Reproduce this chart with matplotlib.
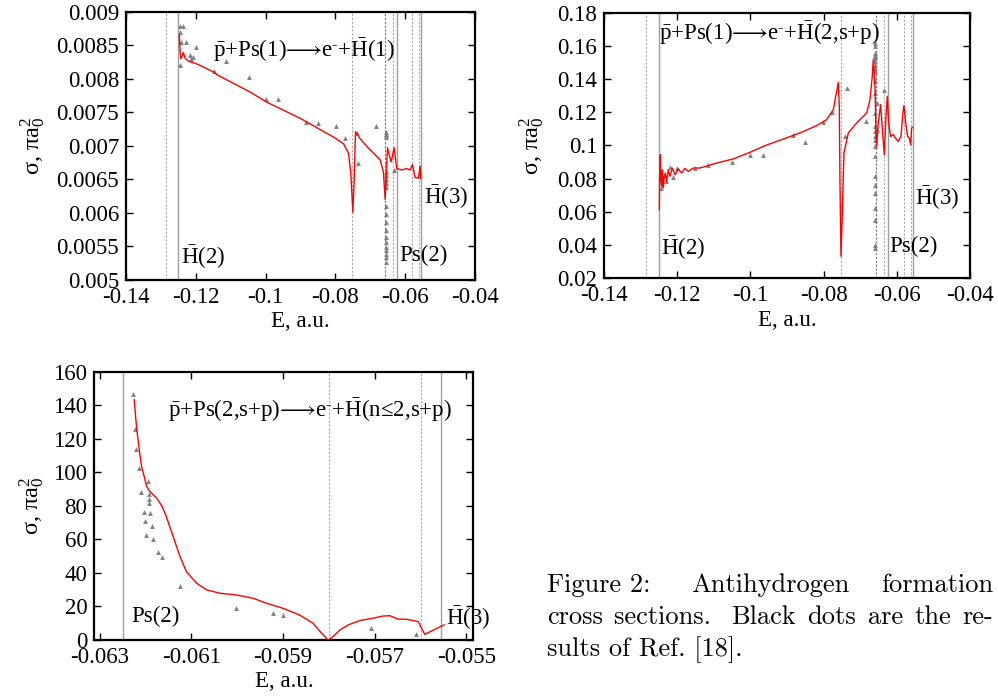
import matplotlib
matplotlib.use("Agg")
import matplotlib.pyplot as plt
from matplotlib.ticker import FixedLocator, FixedFormatter

plt.rcParams["font.family"] = ["Liberation Serif", "DejaVu Serif"]
plt.rcParams["mathtext.fontset"] = "custom"
plt.rcParams["mathtext.rm"] = "Liberation Serif"
plt.rcParams["mathtext.it"] = "Liberation Serif:italic"
plt.rcParams["mathtext.bf"] = "Liberation Serif:bold"
plt.rcParams["mathtext.fallback"] = "stix"
plt.rcParams["axes.unicode_minus"] = False

# ---- panel 1: pbar + Ps(1) -> e- + Hbar(1) ----
e1_curve = [-0.12473, -0.12450, -0.12435, -0.12400, -0.12359, -0.12302, -0.12206,
            -0.11968, -0.11490, -0.11395, -0.10918, -0.10441, -0.09964, -0.09487,
            -0.09010, -0.08532, -0.08055, -0.07769, -0.07626, -0.07559, -0.07502,
            -0.07464, -0.07426, -0.07300, -0.07100, -0.06910, -0.06720, -0.06625,
            -0.06577, -0.06510, -0.06405, -0.06320, -0.06243, -0.06100, -0.05960,
            -0.05860, -0.05794, -0.05718, -0.05620, -0.05574, -0.05555]
s1_curve = [0.00865, 0.00840, 0.00830, 0.00833, 0.00839, 0.00830, 0.00826,
            0.00822, 0.00810, 0.00806, 0.00793, 0.00780, 0.00765, 0.00753,
            0.00741, 0.00727, 0.00713, 0.00703, 0.00689, 0.00659, 0.00601,
            0.00649, 0.00721, 0.00711, 0.00699, 0.00689, 0.00679, 0.00661,
            0.00620, 0.00697, 0.00676, 0.00697, 0.00666, 0.00664, 0.00666,
            0.00664, 0.00672, 0.00653, 0.00652, 0.00670, 0.00651]
e1_ref = [-0.12466, -0.1238, -0.12466, -0.12425, -0.12282, -0.12466, -0.12179,
          -0.12082, -0.1213, -0.11987, -0.11492, -0.11129, -0.10479, -0.09983,
          -0.09649, -0.08838, -0.08486, -0.07979, -0.07722, -0.06834, -0.07341,
          -0.07387, -0.06311,
          -0.06556, -0.06556, -0.06556, -0.06556, -0.06556, -0.06556, -0.06556,
          -0.06556, -0.06556, -0.06556, -0.06556, -0.06556, -0.06556, -0.06556,
          -0.06556, -0.06556, -0.06556, -0.06556, -0.06556, -0.06556]
s1_ref = [0.00878, 0.00878, 0.0087, 0.00855, 0.00855, 0.00821, 0.00835,
          0.00833, 0.00829, 0.00848, 0.00812, 0.00826, 0.00802, 0.0077,
          0.0077, 0.00735, 0.00734, 0.0073, 0.00712, 0.0073, 0.00674,
          0.00719, 0.00664,
          0.00721, 0.00718, 0.00716, 0.00713, 0.00661, 0.00656, 0.00651,
          0.00644, 0.00639, 0.00611, 0.00599, 0.00587, 0.00574, 0.00564,
          0.00557, 0.00549, 0.00544, 0.00539, 0.00534, 0.00527]

# ---- panel 2: pbar + Ps(1) -> e- + Hbar(2,s+p) ----
e2_curve = [-0.12488, -0.12479, -0.12461, -0.12443, -0.12424, -0.12406, -0.12379,
            -0.12352, -0.12324, -0.12288, -0.12242, -0.12197, -0.12133, -0.12060,
            -0.11969, -0.11878, -0.11787, -0.11696, -0.11559, -0.11377, -0.10922,
            -0.10467, -0.10011, -0.09556, -0.09100, -0.08645, -0.08189, -0.07916,
            -0.07734, -0.07643, -0.07597, -0.07570, -0.07552, -0.07525, -0.07488,
            -0.07443, -0.07324, -0.07097, -0.06823, -0.06732, -0.06669, -0.06641,
            -0.06596, -0.06568, -0.06550, -0.06505, -0.06441, -0.06386, -0.06341,
            -0.06295, -0.06259, -0.06222, -0.06168, -0.06095, -0.06040, -0.05958,
            -0.05885, -0.05831, -0.05803, -0.05758, -0.05703, -0.05658, -0.05621,
            -0.05594, -0.05567]
s2_curve = [0.0613, 0.0834, 0.0945, 0.0784, 0.0754, 0.0854, 0.0743,
            0.0814, 0.0834, 0.0784, 0.0854, 0.0814, 0.0864, 0.0824,
            0.0858, 0.0834, 0.0862, 0.0844, 0.0864, 0.0864, 0.0894,
            0.0919, 0.0959, 0.1003, 0.1039, 0.1076, 0.1120, 0.1156,
            0.1216, 0.1327, 0.1381, 0.1236, 0.0774, 0.0331, 0.0593,
            0.0955, 0.1076, 0.1136, 0.1196, 0.1277, 0.1418, 0.1518,
            0.1357, 0.1076, 0.0995, 0.1136, 0.1247, 0.1076, 0.0945,
            0.1176, 0.1297, 0.1136, 0.1055, 0.1065, 0.1045, 0.1025,
            0.1055, 0.1196, 0.1241, 0.1136, 0.1055, 0.1045, 0.1005,
            0.1106, 0.1110]
e2_ref = [-0.12452, -0.12434, -0.12306, -0.12197, -0.12106, -0.11996, -0.11514,
          -0.11150, -0.10512, -0.10011, -0.09647, -0.08845, -0.08508, -0.08007,
          -0.07761, -0.07370, -0.07424, -0.06851, -0.06550, -0.06550, -0.06359,
          -0.06596, -0.06596, -0.06596, -0.06596, -0.06596, -0.06596, -0.06596,
          -0.06596, -0.06596, -0.06596, -0.06596, -0.06596, -0.06596, -0.06596,
          -0.06596, -0.06596, -0.06596, -0.06596, -0.06596, -0.06596, -0.06596,
          -0.06596, -0.06596, -0.06596, -0.06596, -0.06596]
s2_ref = [0.0800, 0.0743, 0.0784, 0.0868, 0.0808, 0.0864, 0.0864,
          0.0880, 0.0900, 0.0943, 0.0943, 0.1065, 0.1019, 0.1142,
          0.1200, 0.1347, 0.1059, 0.1146, 0.1257, 0.1096, 0.1333,
          0.1619, 0.1599, 0.1559, 0.1548, 0.1538, 0.1528, 0.1508,
          0.1488, 0.1468, 0.1448, 0.1387, 0.1317, 0.1196, 0.1116,
          0.1086, 0.1055, 0.1035, 0.0995, 0.0935, 0.0814, 0.0764,
          0.0713, 0.0623, 0.0552, 0.0401, 0.0381]

# ---- panel 3: pbar + Ps(2,s+p) -> e- + Hbar(n<=2,s+p) ----
e3_curve = [-0.06225, -0.06220, -0.06214, -0.06209, -0.06204, -0.06198, -0.06191,
            -0.06176, -0.06164, -0.06155, -0.06140, -0.06125, -0.06111, -0.06089,
            -0.06067, -0.06038, -0.06002, -0.05965, -0.05936, -0.05900, -0.05864,
            -0.05835, -0.05816, -0.05802, -0.05791, -0.05776, -0.05758, -0.05733,
            -0.05704, -0.05682, -0.05667, -0.05649, -0.05631, -0.05605, -0.05600,
            -0.05591, -0.05549]
s3_curve = [143.5, 127.5, 113.6, 103.6, 98.6, 91.7, 88.7,
            84.7, 79.7, 73.7, 61.8, 49.8, 40.8, 33.9,
            29.9, 27.9, 26.9, 24.9, 21.9, 18.9, 14.9,
            10.0, 4.0, 0.0, 2.0, 6.0, 9.0, 11.6,
            13.0, 14.3, 14.5, 12.4, 12.4, 11.0, 8.0,
            3.4, 9.0]
e3_ref = [-0.06227, -0.06224, -0.06220, -0.06215, -0.06210, -0.06204, -0.06202,
          -0.06200, -0.06195, -0.06193, -0.06193, -0.06193, -0.06190, -0.06187,
          -0.06184, -0.06174, -0.06164, -0.06124, -0.06003, -0.05922, -0.05901,
          -0.05709, -0.05611]
s3_ref = [147.0, 125.9, 114.2, 102.6, 88.3, 76.7, 71.1,
          62.4, 95.2, 87.3, 84.3, 81.7, 75.7, 68.3,
          60.4, 52.6, 49.4, 32.3, 18.9, 15.9, 14.9,
          7.0, 3.4]

# thresholds / resonance markers
dashed_e = [-0.1286, -0.1251, -0.0752, -0.0657, -0.0635, -0.0580, -0.0561]
solid_e = [-0.125, -0.0625, -0.05556]

x12_ticks = [-0.14, -0.12, -0.1, -0.08, -0.06, -0.04]
x12_labels = ["-0.14", "-0.12", "-0.1", "-0.08", "-0.06", "-0.04"]
y1_ticks = [0.005, 0.0055, 0.006, 0.0065, 0.007, 0.0075, 0.008, 0.0085, 0.009]
y1_labels = ["0.005", "0.0055", "0.006", "0.0065", "0.007", "0.0075", "0.008", "0.0085", "0.009"]
y2_ticks = [0.02, 0.04, 0.06, 0.08, 0.1, 0.12, 0.14, 0.16, 0.18]
y2_labels = ["0.02", "0.04", "0.06", "0.08", "0.1", "0.12", "0.14", "0.16", "0.18"]
x3_ticks = [-0.063, -0.061, -0.059, -0.057, -0.055]
x3_labels = ["-0.063", "-0.061", "-0.059", "-0.057", "-0.055"]
y3_ticks = [0, 20, 40, 60, 80, 100, 120, 140, 160]
y3_labels = ["0", "20", "40", "60", "80", "100", "120", "140", "160"]

caption_lines = [["Figure 2: ", "Antihydrogen", "formation"],
                 ["cross", "sections. ", "Black", "dots", "are", "the", "re-"],
                 ["sults of Ref. [18]."]]

FS = 16.5
RED = "#ff0000"
GRAY = "#808080"
HB = r"$\bar{\mathrm{H}}$"
PB = r"$\bar{\mathrm{p}}$"
ARROW_E = r"$\text{⟶}$e$^{\text{-}}$+"


def style(ax, xt, xl, yt, yl, xlim, ylim, ylab_x, xlab_y):
    ax.set_xlim(*xlim)
    ax.set_ylim(*ylim)
    ax.xaxis.set_major_locator(FixedLocator(xt))
    ax.xaxis.set_major_formatter(FixedFormatter(xl))
    ax.yaxis.set_major_locator(FixedLocator(yt))
    ax.yaxis.set_major_formatter(FixedFormatter(yl))
    ax.tick_params(direction="in", top=True, right=True, length=5, width=1,
                   labelsize=FS, pad=5)
    ax.minorticks_off()
    for s in ax.spines.values():
        s.set_linewidth(1.6)
    ax.set_xlabel("E, a.u.", fontsize=FS)
    ax.set_ylabel(r"$\text{σ, π}\mathrm{a}_0^2$", fontsize=FS + 1)
    ax.yaxis.set_label_coords(ylab_x, 0.5)
    ax.xaxis.set_label_coords(0.5, xlab_y)


def vlines(ax, dashed, solid):
    for e in dashed:
        c = "#707070" if abs(e + 0.0657) < 1e-6 else "#a8a8a8"
        ax.axvline(e, color=c, lw=0.8, ls=(0, (2, 1.5)), zorder=1)
    for e in solid:
        ax.axvline(e, color="#a0a0a0", lw=1.0, zorder=1)


fig = plt.figure(figsize=(9.98, 6.98), dpi=100)

# panel 1
ax1 = fig.add_axes([0.1263, 0.5989, 0.3497, 0.3844])
vlines(ax1, dashed_e, solid_e)
ax1.plot(e1_ref, s1_ref, "^", color=GRAY, ms=3.5, mew=0, zorder=2)
ax1.plot(e1_curve, s1_curve, color=RED, lw=1.0, zorder=3)
style(ax1, x12_ticks, x12_labels, y1_ticks, y1_labels, (-0.14, -0.04), (0.005, 0.009),
      -0.225, -0.115)
ax1.text(-0.115, 0.00843, PB + "+Ps(1)" + ARROW_E + HB + "(1)",
         fontsize=FS, va="center", ha="left")
ax1.text(-0.12417, 0.005343, HB + "(2)", fontsize=FS, va="center", ha="left")
ax1.text(-0.06176, 0.005372, "Ps(2)", fontsize=FS, va="center", ha="left")
ax1.text(-0.05460, 0.006237, HB + "(3)", fontsize=FS, va="center", ha="left")

# panel 2
ax2 = fig.add_axes([0.6052, 0.6017, 0.3667, 0.3797])
vlines(ax2, dashed_e, solid_e)
ax2.plot(e2_ref, s2_ref, "^", color=GRAY, ms=3.5, mew=0, zorder=2)
ax2.plot(e2_curve, s2_curve, color=RED, lw=1.0, zorder=3)
style(ax2, x12_ticks, x12_labels, y2_ticks, y2_labels, (-0.14, -0.04), (0.02, 0.18),
      -0.157, -0.12)
ax2.text(-0.12488, 0.1679, PB + "+Ps(1)" + ARROW_E + HB + "(2,s+p)",
         fontsize=FS, va="center", ha="left")
ax2.text(-0.12443, 0.0381, HB + "(2)", fontsize=FS, va="center", ha="left")
ax2.text(-0.06204, 0.0391, "Ps(2)", fontsize=FS, va="center", ha="left")
ax2.text(-0.05503, 0.0683, HB + "(3)", fontsize=FS, va="center", ha="left")

# panel 3
ax3 = fig.add_axes([0.0945, 0.0831, 0.3798, 0.3840])
vlines(ax3, [-0.0580, -0.0560], [-0.0625, -0.05556])
ax3.plot(e3_ref, s3_ref, "^", color=GRAY, ms=3.5, mew=0, zorder=2)
ax3.plot(e3_curve, s3_curve, color=RED, lw=1.0, zorder=3)
style(ax3, x3_ticks, x3_labels, y3_ticks, y3_labels, (-0.06312, -0.05485), (0, 160),
      -0.126, -0.115)
ax3.text(-0.06151, 137.5, PB + "+Ps(2,s+p)" + ARROW_E + HB + r"(n$\text{≤}$2,s+p)",
         fontsize=FS, va="center", ha="left")
ax3.text(-0.06231, 13.9, "Ps(2)", fontsize=FS, va="center", ha="left")
ax3.text(-0.05545, 13.0, HB + "(3)", fontsize=FS, va="center", ha="left", clip_on=False)

# caption, justified between x0 and x1 (pixels)
cap_x0, cap_x1 = 547, 993
cap_y = [585, 617, 650]
fig.canvas.draw()
renderer = fig.canvas.get_renderer()
for words, yp, justify in zip(caption_lines, cap_y, [True, True, False]):
    texts = [fig.text(0, 1 - yp / 698, w, fontsize=19, family="cmr10", va="center",
                      ha="left") for w in words]
    widths = [t.get_window_extent(renderer).width for t in texts]
    gap = (cap_x1 - cap_x0 - sum(widths)) / max(len(words) - 1, 1) if justify else 0
    x = cap_x0
    for t, w in zip(texts, widths):
        t.set_x(x / 998)
        x += w + gap

fig.savefig("out.png", dpi=100)
